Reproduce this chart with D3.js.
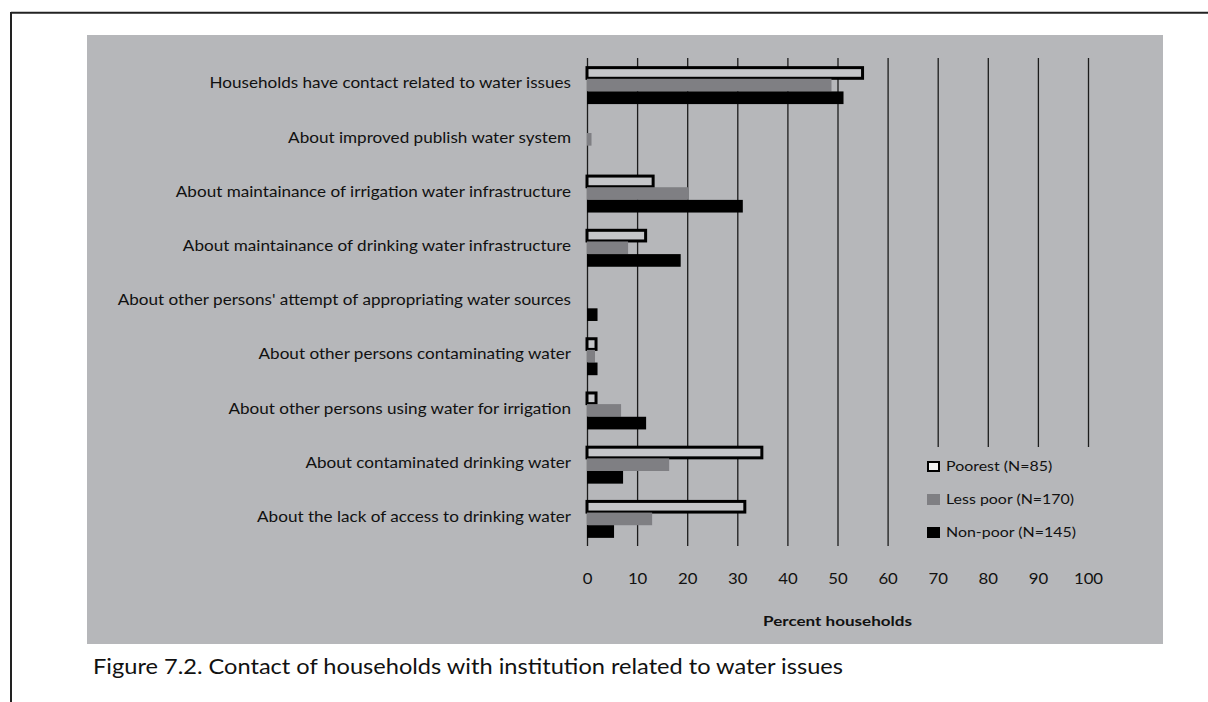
<!DOCTYPE html>
<html>
<head>
<meta charset="utf-8">
<script src="https://cdn.jsdelivr.net/npm/d3@7"></script>
<style>
  body { margin: 0; background: #fff; }
  svg { display: block; font-family: Lato, "Open Sans", sans-serif; }
</style>
</head>
<body>
<svg id="chart" width="1208" height="702"></svg>
<script>
const categories = [
  "Households have contact related to water issues",
  "About improved publish water system",
  "About maintainance of irrigation water infrastructure",
  "About maintainance of drinking water infrastructure",
  "About other persons' attempt of appropriating water sources",
  "About other persons contaminating water",
  "About other persons using water for irrigation",
  "About contaminated drinking water",
  "About the lack of access to drinking water"
];
const seriesNames = ["Poorest (N=85)", "Less poor (N=170)", "Non-poor (N=145)"];
const poorest  = [55.3, 0,   13.5, 12.0, 0,   2.1, 2.1, 35.2, 31.8];
const lessPoor = [48.8, 0.9, 20.3,  8.2, 0,   1.6, 6.8, 16.4, 13.0];
const nonPoor  = [51.2, 0,   31.1, 18.7, 2.1, 2.1, 11.8, 7.2,  5.4];
const tickValues = [0, 10, 20, 30, 40, 50, 60, 70, 80, 90, 100];
const xTitle = "Percent households";
const caption = "Figure 7.2. Contact of households with institution related to water issues";

const svg = d3.select("#chart");

// the original lettering is wider than Lato, so stretch text a bit
function stretch(sel, k) {
  sel.each(function () {
    const w = this.getComputedTextLength();
    d3.select(this).attr("textLength", w * k).attr("lengthAdjust", "spacingAndGlyphs");
  });
}

// page frame
svg.append("line").attr("x1", 11).attr("x2", 1208).attr("y1", 12.7).attr("y2", 12.7)
  .attr("stroke", "#222").attr("stroke-width", 2);
svg.append("line").attr("x1", 11).attr("x2", 11).attr("y1", 12).attr("y2", 702)
  .attr("stroke", "#222").attr("stroke-width", 2);

// gray panel
const panelFill = "#b6b7ba";
svg.append("rect").attr("x", 87).attr("y", 35).attr("width", 1076).attr("height", 609)
  .attr("fill", panelFill);

const x = d3.scaleLinear().domain([0, 100]).range([587, 1088]);
const y = d3.scaleBand().domain(categories).range([58, 546]).paddingInner(0.3).paddingOuter(0.15);
const ySub = d3.scaleBand().domain(seriesNames).range([0, y.bandwidth()]);

const fills = { [seriesNames[0]]: "#c5c6c9", [seriesNames[1]]: "#7f7f83", [seriesNames[2]]: "#000" };

// grid + tick labels
const axis = d3.axisBottom(x).tickValues(tickValues).tickSize(-(546 - 58)).tickPadding(27);
const gx = svg.append("g").attr("transform", "translate(0,546)").call(axis);
gx.select(".domain").remove();
gx.selectAll(".tick line").attr("stroke", "#1c1c1c").attr("stroke-width", 1.3);
gx.selectAll(".tick text").attr("fill", "#111").style("font-size", "15.5px")
  .style("font-family", "Lato, sans-serif");
stretch(gx.selectAll(".tick text"), 1.08);

// bars
const rows = categories.map((c, i) => ({
  cat: c,
  vals: [
    { s: seriesNames[0], v: poorest[i] },
    { s: seriesNames[1], v: lessPoor[i] },
    { s: seriesNames[2], v: nonPoor[i] }
  ]
}));

const grp = svg.append("g").selectAll("g").data(rows).join("g")
  .attr("transform", d => `translate(0,${y(d.cat)})`);

grp.selectAll("rect").data(d => d.vals.filter(v => v.v > 0)).join("rect")
  .attr("x", x(0))
  .attr("y", d => ySub(d.s) + (d.s === seriesNames[0] ? 1.5 : 0))
  .attr("width", d => x(d.v) - x(0) - (d.s === seriesNames[0] ? 1.5 : 0))
  .attr("height", d => ySub.bandwidth() - (d.s === seriesNames[0] ? 2 : 0))
  .attr("fill", d => fills[d.s])
  .attr("stroke", d => d.s === seriesNames[0] ? "#000" : "none")
  .attr("stroke-width", 3);

// category labels
const labels = svg.append("g").selectAll("text").data(categories).join("text")
  .attr("x", 571)
  .attr("y", d => y(d) + y.bandwidth() / 2 - 2)
  .attr("dy", "0.35em")
  .attr("text-anchor", "end")
  .attr("fill", "#111")
  .style("font-size", "15px")
  .text(d => d);
stretch(labels, 1.14);

// legend box hides the grid lines behind it
svg.append("rect").attr("x", 905).attr("y", 447).attr("width", 200).attr("height", 100)
  .attr("fill", panelFill);
const leg = svg.append("g").selectAll("g").data(seriesNames).join("g")
  .attr("transform", (d, i) => `translate(927,${461 + i * 33})`);
leg.append("rect")
  .attr("x", d => d === seriesNames[0] ? 1 : 0)
  .attr("y", d => d === seriesNames[0] ? 1 : 0)
  .attr("width", d => d === seriesNames[0] ? 11 : 13)
  .attr("height", d => d === seriesNames[0] ? 9 : 11)
  .attr("fill", d => d === seriesNames[0] ? "#f2f2f2" : fills[d])
  .attr("stroke", d => d === seriesNames[0] ? "#000" : "none")
  .attr("stroke-width", 2);
const legText = leg.append("text")
  .attr("x", 19).attr("y", 9.5)
  .attr("fill", "#111")
  .style("font-size", "13.5px")
  .text(d => d);
stretch(legText, 1.18);

// axis title
const title = svg.append("text")
  .attr("x", (x(0) + x(100)) / 2).attr("y", 626)
  .attr("text-anchor", "middle")
  .attr("fill", "#111")
  .style("font-size", "13.5px").style("font-weight", "bold")
  .text(xTitle);
title.attr("textLength", 149).attr("lengthAdjust", "spacingAndGlyphs");

// caption
svg.append("text")
  .attr("x", 93).attr("y", 674)
  .attr("fill", "#111")
  .style("font-size", "21px")
  .attr("textLength", 750).attr("lengthAdjust", "spacingAndGlyphs")
  .text(caption);
</script>
</body>
</html>
